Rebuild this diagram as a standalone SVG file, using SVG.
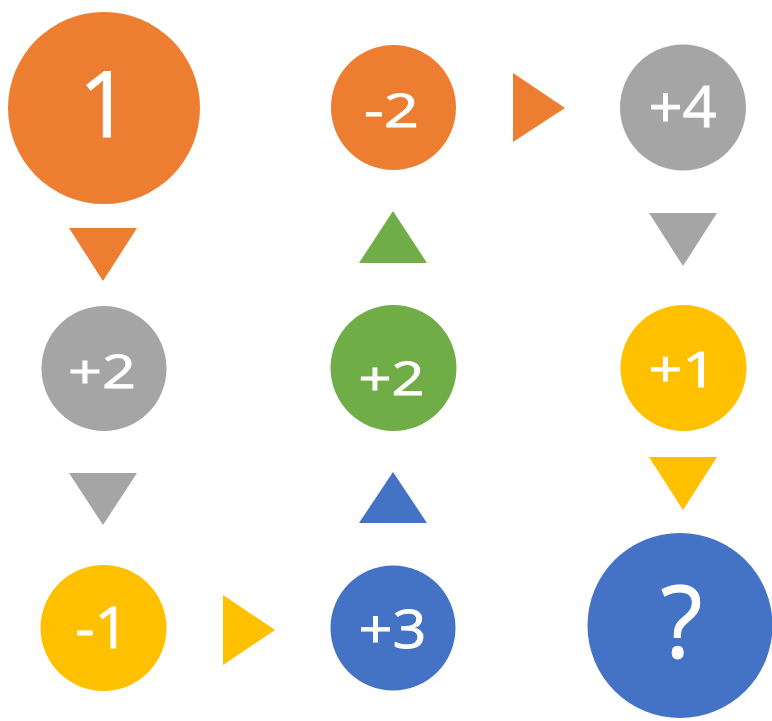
<svg xmlns="http://www.w3.org/2000/svg" width="772" height="721" viewBox="0 0 772 721">
<style>
.t{font-family:"Open Sans","Liberation Sans",Arial,sans-serif;fill:#fff;stroke:#fff;stroke-width:0.8;text-anchor:middle}
.o{fill:#ED7D31}.g{fill:#A5A5A5}.y{fill:#FFC000}.b{fill:#4472C4}.gr{fill:#70AD47}
</style>
<rect width="772" height="721" fill="#fff"/>
<g id="connectors">
<polygon class="o" points="69,228 137,228 103,281"/>
<polygon class="g" points="69,473 137,473 103,525"/>
<polygon class="gr" points="393,211 427,263 359,263"/>
<polygon class="b" points="393,472 427,523 359,523"/>
<polygon class="o" points="513,73 565,108 513,142"/>
<polygon class="y" points="223,595 275,630 223,665"/>
<polygon class="g" points="649,213 717,213 683,266"/>
<polygon class="y" points="649,457 717,457 683,510"/>
</g>
<g id="n1"><circle class="o" cx="104" cy="108" r="96"/><text class="t" x="104.5" y="137" font-size="91">1</text></g>
<g id="nm2"><circle class="o" cx="393.5" cy="107.5" r="62.5"/><text class="t" x="391.5" y="127" font-size="46" textLength="55" lengthAdjust="spacingAndGlyphs">-2</text></g>
<g id="np4"><circle class="g" cx="683" cy="107.5" r="63"/><text class="t" x="682.5" y="127" font-size="56" textLength="68" lengthAdjust="spacingAndGlyphs">+4</text></g>
<g id="np2a"><circle class="g" cx="104" cy="368.5" r="62.5"/><text class="t" x="102" y="388" font-size="45" textLength="68" lengthAdjust="spacingAndGlyphs">+2</text></g>
<g id="np2b"><circle class="gr" cx="393.5" cy="368" r="63"/><text class="t" x="391.5" y="395" font-size="46" textLength="66" lengthAdjust="spacingAndGlyphs">+2</text></g>
<g id="np1"><circle class="y" cx="683.5" cy="368" r="63"/><text class="t" x="682.5" y="387" font-size="49" textLength="68" lengthAdjust="spacingAndGlyphs">+1</text></g>
<g id="nm1"><circle class="y" cx="103.5" cy="628" r="63"/><text class="t" x="102" y="648" font-size="56" textLength="54" lengthAdjust="spacingAndGlyphs">-1</text></g>
<g id="np3"><circle class="b" cx="393" cy="628" r="62.5"/><text class="t" x="392.5" y="648" font-size="53" textLength="68" lengthAdjust="spacingAndGlyphs">+3</text></g>
<g id="nq"><circle class="b" cx="680" cy="625.5" r="92.5"/><text class="t" x="681.5" y="658" font-size="100" textLength="42" lengthAdjust="spacingAndGlyphs">?</text></g>
</svg>
